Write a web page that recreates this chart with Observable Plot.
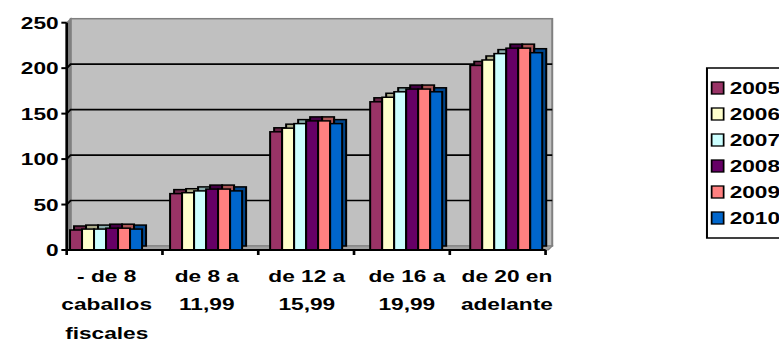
<!DOCTYPE html>
<html><head><meta charset="utf-8">
<script src="https://cdn.jsdelivr.net/npm/d3@7"></script>
<script src="https://cdn.jsdelivr.net/npm/@observablehq/plot@0.6"></script>
<style>
html,body{margin:0;padding:0;background:#fff;}
#chart{width:779px;height:343px;overflow:hidden;position:relative;}
#chart svg{transform-origin:0 0;transform:scale(1.3339,1);display:block;}
</style></head><body><div id="chart"></div>
<script>
// ---- data ----
const categories = ["- de 8\ncaballos\nfiscales", "de 8 a\n11,99", "de 12 a\n15,99", "de 16 a\n19,99", "de 20 en\nadelante"];
const years = ["2005", "2006", "2007", "2008", "2009", "2010"];
const colors = ["#993366", "#FFFFCC", "#CCFFFF", "#660066", "#FF8080", "#0066CC"];
const v2005 = [22, 62, 130, 163, 203];
const v2006 = [23, 63, 134, 168, 209];
const v2007 = [23, 65, 139, 174, 216];
const v2008 = [24, 67, 142, 177, 222];
const v2009 = [24, 67, 142, 177, 222];
const v2010 = [23, 65, 139, 174, 217];
const yTicks = [0, 50, 100, 150, 200, 250];

const seriesByYear = {"2005": v2005, "2006": v2006, "2007": v2007, "2008": v2008, "2009": v2009, "2010": v2010};
const data = years.flatMap((yr, i) => categories.map((c, j) => ({
  category: c, year: yr, value: seriesByYear[yr][j],
  color: colors[i], shade: d3.color(colors[i]).darker(1.1).formatHex()
})));

const DH = 3, DV = 4; // 3D depth offset

function wall(index, scales, values, dim) {
  const x0 = dim.marginLeft, x1 = dim.width - dim.marginRight;
  const y0 = scales.y(0), yT = scales.y(yTicks[yTicks.length - 1]);
  const g = d3.create("svg:g");
  g.append("rect").attr("x", x0 + DH).attr("y", yT - DV).attr("width", x1 - x0 + 2).attr("height", y0 - yT)
    .attr("fill", "#C0C0C0").attr("stroke", "#808080").attr("stroke-width", 1.5);
  g.append("path").attr("d", `M${x0},${yT}L${x0 + DH},${yT - DV}L${x0 + DH},${y0 - DV}L${x0},${y0}Z`)
    .attr("fill", "#808080").attr("stroke", "#808080");
  g.append("path").attr("d", `M${x0},${y0}L${x0 + DH},${y0 - DV}L${x1 + DH + 2},${y0 - DV}L${x1 + 2},${y0}Z`)
    .attr("fill", "#A0A0A0").attr("stroke", "#808080");
  for (const t of yTicks.slice(1, -1)) {
    const y = scales.y(t);
    g.append("path").attr("d", `M${x0},${y}L${x0 + DH},${y - DV}L${x1 + DH + 2},${y - DV}`)
      .attr("fill", "none").attr("stroke", "black").attr("stroke-width", 1.6);
  }
  return g.node();
}

function axes(index, scales, values, dim) {
  const x0 = dim.marginLeft, x1 = dim.width - dim.marginRight;
  const y0 = scales.y(0), yT = scales.y(yTicks[yTicks.length - 1]);
  const g = d3.create("svg:g");
  const lines = g.append("g").attr("stroke", "black").attr("stroke-width", 2).attr("fill", "none");
  lines.append("path").attr("d", `M${x0},${yT}V${y0}H${x1}`);
  const step = (x1 - x0) / categories.length;
  for (let k = 0; k <= categories.length; k++) {
    lines.append("path").attr("d", `M${x0 + k * step},${y0}v5`);
  }
  for (const t of yTicks) {
    const y = scales.y(t);
    lines.append("path").attr("d", `M${x0 - 4},${y}H${x0}`);
    g.append("text").attr("x", x0 - 6).attr("y", y).attr("dy", "0.36em").attr("text-anchor", "end")
      .attr("font-size", 17).attr("font-weight", "bold").attr("fill", "black").text(String(t));
  }
  return g.node();
}

function legend(index, scales, values, dim) {
  const g = d3.create("svg:g");
  const bx = 530, by = 68, gap = 26;
  g.append("rect").attr("x", bx).attr("y", by).attr("width", 80).attr("height", 20 + gap * years.length - 6)
    .attr("fill", "white").attr("stroke", "black").attr("stroke-width", 1.5);
  years.forEach((yr, i) => {
    const cy = by + 20 + i * gap;
    g.append("rect").attr("x", bx + 3.5).attr("y", cy - 6).attr("width", 9).attr("height", 12)
      .attr("fill", colors[i]).attr("stroke", "black").attr("stroke-width", 1.3);
    g.append("text").attr("x", bx + 17).attr("y", cy).attr("dy", "0.36em").attr("text-anchor", "start")
      .attr("font-size", 17).attr("font-weight", "bold").attr("fill", "black").text(yr);
  });
  return g.node();
}

const chart = Plot.plot({
  width: 584, height: 343,
  marginLeft: 40.5, marginRight: 165.7, marginTop: 22.7, marginBottom: 93,
  style: {fontFamily: "'Liberation Sans', Arial, sans-serif", fontSize: "17px", fontWeight: "bold", background: "white", color: "black"},
  fx: {domain: categories, paddingInner: 0.22, paddingOuter: 0.11},
  x: {domain: years, padding: 0, axis: null},
  y: {domain: [0, 250], axis: null},
  color: {type: "identity"},
  marks: [
    Plot.frame({facet: "super", stroke: "none", render: wall}),
    Plot.barY(data, {fx: "category", x: "year", y: "value", fill: "shade", stroke: "black", strokeWidth: 1.5, dx: DH, dy: -DV}),
    Plot.barY(data, {fx: "category", x: "year", y: "value", fill: "color", stroke: "black", strokeWidth: 1.5}),
    Plot.frame({facet: "super", stroke: "none", render: axes}),
    Plot.axisFx({anchor: "bottom", tickSize: 0, tickPadding: 11, lineHeight: 1.68, fontSize: 17, fontWeight: "bold", label: null}),
    Plot.frame({facet: "super", stroke: "none", render: legend})
  ]
});
document.getElementById("chart").appendChild(chart);
</script></body></html>
